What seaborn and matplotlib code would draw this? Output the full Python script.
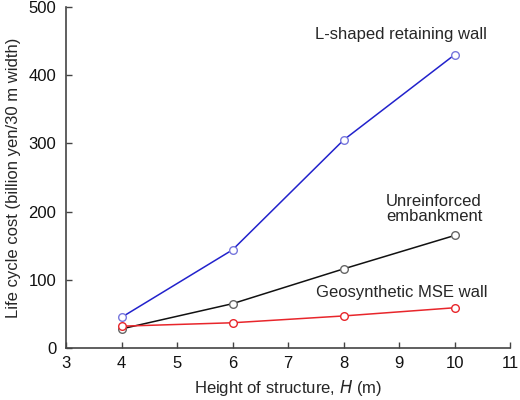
import pandas as pd
import matplotlib
matplotlib.use("Agg")
import matplotlib.pyplot as plt
import seaborn as sns

heights = [4, 6, 8, 10]
l_shaped = [45, 144, 305, 430]
unreinforced = [28, 65, 116, 165]
geosynthetic = [32, 37, 47, 59]

series_names = ["L-shaped retaining wall", "Unreinforced\nembankment", "Geosynthetic MSE wall"]
series_values = [l_shaped, unreinforced, geosynthetic]
series_colors = ["#2222cc", "#111111", "#e8262b"]
marker_colors = ["#7777dd", "#666666", "#e8262b"]


def main():
    sns.set_style("ticks")
    plt.rcParams["font.family"] = ["Liberation Sans", "DejaVu Sans"]

    df = pd.concat(
        [pd.DataFrame({"H": heights, "cost": vals, "series": name})
         for name, vals in zip(series_names, series_values)],
        ignore_index=True,
    )

    fig = plt.figure(figsize=(5.2, 4.0), dpi=100)
    ax = fig.add_axes([0.127, 0.13, 0.854, 0.8525])

    for name, col, mcol in zip(series_names, series_colors, marker_colors):
        sns.lineplot(data=df[df["series"] == name], x="H", y="cost", ax=ax,
                     color=col, linewidth=1.1, marker="o", markersize=5.5,
                     markerfacecolor="white", markeredgecolor=mcol,
                     markeredgewidth=1.0, legend=False)

    fs = 12
    ax.set_xlim(3, 11)
    ax.set_ylim(0, 500)
    ax.set_xticks(range(3, 12))
    ax.set_yticks(range(0, 501, 100))
    ax.tick_params(direction="in", length=4, width=1, labelsize=fs,
                   color="#444444", labelcolor="#111111")
    ax.tick_params(axis="x", pad=6)
    ax.tick_params(axis="y", pad=7)
    for s in ["left", "bottom"]:
        ax.spines[s].set_color("#444444")
        ax.spines[s].set_linewidth(1.2)
    sns.despine(ax=ax)

    ax.set_xlabel("Height of structure, $\\it{H}$ (m)", fontsize=fs, labelpad=5)
    ax.set_ylabel("Life cycle cost (billion yen/30 m width)", fontsize=fs, labelpad=5)

    ax.text(9.04, 460, "L-shaped retaining wall", ha="center", va="center", fontsize=fs)
    ax.text(9.63, 204, "Unreinforced\nembankment", ha="center", va="center",
            multialignment="center", fontsize=fs, linespacing=1.05)
    ax.text(9.04, 81, "Geosynthetic MSE wall", ha="center", va="center", fontsize=fs)

    fig.savefig("out.png", dpi=100)


if __name__ == "__main__":
    main()
